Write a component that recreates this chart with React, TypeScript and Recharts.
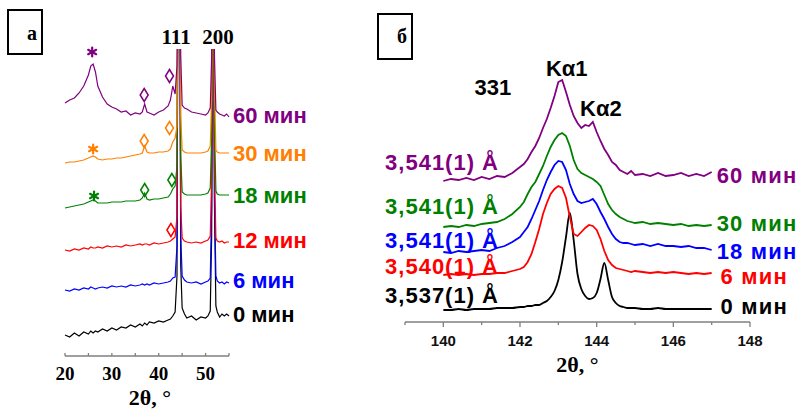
import { LineChart, Line, XAxis, YAxis, ReferenceDot, Label } from "recharts";

const SANS = "'Liberation Sans', Arial, sans-serif";
const SERIF = "'Liberation Serif', 'Times New Roman', serif";

const PURPLE = "#800080";
const ORANGE = "#ff8000";
const GREEN = "#008000";
const RED = "#ff0000";
const BLUE = "#0000ff";
const BLACK = "#000000";
const AXIS = "#7f7f7f";

// ---------- panel а : full patterns, 2θ 20..55°, stacked (offset units) ----------
const thetaA = [
  20, 21, 22, 23, 24, 25, 25.5, 26, 26.5, 27, 28, 29, 30, 31, 32, 33, 34, 35, 36, 36.5,
  37, 37.5, 38, 39, 40, 41, 42, 42.5, 43, 43.5, 43.9, 44.1, 44.3, 44.5, 44.7, 45, 45.5,
  46, 47, 48, 49, 50, 50.5, 51, 51.3, 51.5, 51.7, 51.9, 52.2, 52.5, 53, 53.5, 54, 54.5, 55,
];
const a0 = [
  21, 19, 23, 20, 24, 22, 25, 23, 25, 24, 27, 25, 28, 26, 29, 28, 31, 29, 32, 30,
  33, 31, 34, 33, 35, 34, 36, 37, 40, 44, 80, 400, 400, 400, 90, 48, 42,
  38, 40, 36, 39, 38, 40, 45, 120, 400, 400, 150, 50, 44, 39, 42, 40, 42, 40,
];
const a6 = [
  66, 65, 67, 66, 68, 67, 69, 68, 67, 68, 69, 68, 70, 69, 70, 69, 71, 70, 71, 72,
  71, 72, 71, 73, 72, 73, 74, 75, 78, 79, 110, 400, 400, 400, 120, 80, 76,
  74, 73, 74, 72, 74, 75, 78, 150, 400, 400, 160, 80, 75, 73, 74, 72, 74, 73,
];
const a12 = [
  106, 105, 107, 106, 108, 107, 109, 108, 108, 109, 108, 110, 109, 110, 109, 111, 110, 111, 112, 111,
  112, 112, 111, 113, 112, 113, 114, 115, 117, 119, 140, 400, 400, 400, 150, 118, 115,
  114, 113, 114, 113, 115, 116, 120, 180, 400, 400, 190, 118, 115, 114, 115, 113, 114, 114,
];
const a18 = [
  148, 149, 150, 151, 152, 154, 155, 156, 155, 153, 153, 153, 154, 154, 154, 155, 155, 155, 156, 158,
  163, 157, 156, 157, 157, 158, 159, 162, 167, 170, 190, 400, 400, 400, 200, 164, 162,
  161, 161, 161, 161, 162, 163, 168, 220, 400, 400, 230, 165, 162, 161, 161, 161, 161, 161,
];
const a30 = [
  193, 194, 194, 195, 196, 198, 199, 200, 199, 197, 196, 197, 197, 198, 198, 199, 200, 201, 202, 203,
  210, 204, 203, 203, 204, 204, 205, 207, 214, 218, 230, 400, 400, 400, 240, 206, 204,
  203, 203, 203, 203, 204, 205, 210, 260, 400, 400, 270, 206, 204, 203, 203, 203, 203, 203,
];
const a60 = [
  253, 256, 258, 263, 270, 281, 290, 292, 284, 270, 259, 252, 249, 247, 244, 245, 241, 243, 242, 244,
  252, 244, 243, 241, 244, 246, 250, 256, 270, 262, 290, 400, 400, 400, 300, 251, 248,
  247, 244, 243, 242, 241, 243, 248, 300, 400, 400, 300, 246, 244, 242, 241, 240, 242, 239,
];
const ticksA = [20, 25, 30, 35, 40, 45, 50, 55];

// labels at the right end of each pattern: [2θ, level, text, colour]
const timeLabelsA: [number, number, string, string][] = [
  [55, 241, "60 мин", PURPLE],
  [55, 203, "30 мин", ORANGE],
  [55, 161, "18 мин", GREEN],
  [55, 116, "12 мин", RED],
  [55, 76, "6 мин", BLUE],
  [55, 42, "0 мин", BLACK],
];
const hklA: [number, number, string][] = [
  [43.7, 319, "111"],
  [52.65, 319, "200"],
];
const starsA: [number, number, string][] = [
  [25.8, 304, PURPLE],
  [26, 207, ORANGE],
  [26.2, 160, GREEN],
];
const diamondsA: [number, number, string][] = [
  [36.9, 261, PURPLE],
  [42.3, 280, PURPLE],
  [36.9, 215, ORANGE],
  [42.3, 228, ORANGE],
  [37, 166, GREEN],
  [42.8, 176, GREEN],
  [42.6, 126, RED],
];

// ---------- panel б : 331 reflection, 2θ 140..147° ----------
const thetaB = [
  140, 140.2, 140.4, 140.6, 140.8, 141, 141.2, 141.4, 141.6, 141.8, 142, 142.1, 142.2, 142.3,
  142.4, 142.5, 142.6, 142.7, 142.8, 142.9, 143, 143.1, 143.2, 143.3, 143.4, 143.5, 143.6,
  143.7, 143.8, 143.9, 144, 144.1, 144.2, 144.3, 144.4, 144.5, 144.6, 144.7, 144.8, 144.9,
  145, 145.2, 145.4, 145.6, 145.8, 146, 146.2, 146.4, 146.6, 146.8, 147,
];
const b0 = [
  12, 12, 13, 12, 13, 13, 13, 14, 14, 14, 15, 15, 16, 16, 17, 17, 19, 21, 25, 31,
  42, 60, 85, 109, 82, 48, 33, 26, 23, 24, 29, 43, 59, 42, 25, 19, 16, 15, 14, 14,
  14, 13, 13, 14, 13, 13, 13, 13, 13, 13, 13,
];
const b6 = [
  47, 48, 47, 48, 47, 48, 48, 49, 49, 51, 53, 55, 60, 68, 80, 93, 108, 119, 128, 133,
  136, 134, 124, 105, 88, 86, 90, 94, 97, 96, 92, 83, 71, 62, 57, 54, 53, 52, 51, 50,
  51, 50, 49, 50, 49, 50, 49, 48, 49, 48, 49,
];
const b18 = [
  70, 69, 71, 70, 71, 72, 71, 74, 76, 80, 85, 90, 95, 103, 112, 121, 132, 142, 150, 157,
  161, 160, 152, 138, 128, 121, 119, 120, 121, 123, 118, 110, 103, 95, 88, 83, 80, 79, 79, 78,
  77, 78, 76, 78, 76, 76, 75, 76, 74, 74, 72,
];
const b30 = [
  95, 96, 95, 97, 96, 98, 99, 100, 103, 108, 115, 120, 128, 135, 140, 148, 156, 166, 175, 182,
  187, 189, 186, 176, 162, 153, 149, 147, 145, 143, 140, 136, 127, 118, 112, 108, 105, 103, 101, 100,
  99, 100, 98, 99, 98, 97, 98, 96, 97, 96, 97,
];
const b60 = [
  141, 143, 142, 144, 142, 145, 143, 146, 145, 149, 155, 158, 163, 170, 176, 184, 194, 203, 214, 226,
  240, 242, 230, 217, 206, 199, 194, 197, 196, 200, 190, 181, 173, 167, 160, 157, 152, 150, 148, 151,
  147, 148, 146, 149, 146, 147, 149, 146, 148, 146, 150,
];
const ticksB = [139, 140, 141, 142, 143, 144, 145, 146, 147, 148];

const timeLabelsB: [number, number, string, string][] = [
  [147, 147, "60 мин", PURPLE],
  [147, 99, "30 мин", GREEN],
  [147, 71, "18 мин", BLUE],
  [147.1, 46, "6 мин", RED],
  [147.1, 16, "0 мин", BLACK],
];
const latticeB: [number, number, string, string][] = [
  [138.48, 160, "3,541(1) Å", PURPLE],
  [138.48, 116, "3,541(1) Å", GREEN],
  [138.48, 82, "3,541(1) Å", BLUE],
  [138.48, 56, "3,540(1) Å", RED],
  [138.48, 27, "3,537(1) Å", BLACK],
];
const peakNamesB: [number, number, string][] = [
  [141.29, 235, "331"],
  [143.22, 254, "Kα1"],
  [144.11, 214, "Kα2"],
];

const dataA = thetaA.map((t, i) => ({
  t, a0: a0[i], a6: a6[i], a12: a12[i], a18: a18[i], a30: a30[i], a60: a60[i],
}));
const dataB = thetaB.map((t, i) => ({
  t, b0: b0[i], b6: b6[i], b18: b18[i], b30: b30[i], b60: b60[i],
}));

function textDot(key: string, x: number, y: number, value: string, color: string,
  font: string, size: number, position: any, offset = 0, spacing = 0) {
  return (
    <ReferenceDot key={key} x={x} y={y} r={0} fill="none" stroke="none" ifOverflow="visible"
      label={{
        value, position, offset, fill: color, fontSize: size, fontWeight: "bold",
        fontFamily: font, letterSpacing: spacing,
      }} />
  );
}

const diamond = (color: string) => (p: any) => (
  <polygon
    points={`${p.cx},${p.cy - 6.5} ${p.cx + 4},${p.cy} ${p.cx},${p.cy + 6.5} ${p.cx - 4},${p.cy}`}
    fill="none" stroke={color} strokeWidth={1.5} />
);
const star = (color: string) => (p: any) => (
  <g stroke={color} strokeWidth={2.2} strokeLinecap="round">
    <line x1={p.cx} y1={p.cy - 4.5} x2={p.cx} y2={p.cy + 4.5} />
    <line x1={p.cx - 4} y1={p.cy - 2.2} x2={p.cx + 4} y2={p.cy + 2.2} />
    <line x1={p.cx - 4} y1={p.cy + 2.2} x2={p.cx + 4} y2={p.cy - 2.2} />
  </g>
);

function TickA(p: any) {
  const major = p.payload.value % 10 === 0;
  return (
    <g>
      <line x1={p.x} x2={p.x} y1={p.y} y2={p.y - 3} stroke={AXIS} strokeWidth={1.3} />
      {major && (
        <text x={p.x} y={p.y + 23.5} textAnchor="middle" fontFamily={SERIF} fontWeight="bold"
          fontSize={19} fill="#000">{p.payload.value}</text>
      )}
    </g>
  );
}

function TickB(p: any) {
  const major = p.payload.value % 2 === 0;
  return (
    <g>
      <line x1={p.x} x2={p.x} y1={p.y} y2={p.y + (major ? 5 : 3)} stroke={AXIS} strokeWidth={1.3} />
      {major && (
        <text x={p.x} y={p.y + 23.5} textAnchor="middle" fontFamily={SANS} fontWeight="bold"
          fontSize={15} fill="#111">{p.payload.value}</text>
      )}
    </g>
  );
}

const seriesA = [
  { key: "a0", color: BLACK },
  { key: "a6", color: BLUE },
  { key: "a12", color: RED },
  { key: "a18", color: GREEN },
  { key: "a30", color: ORANGE },
  { key: "a60", color: PURPLE },
];
const seriesB = [
  { key: "b0", color: BLACK },
  { key: "b6", color: RED },
  { key: "b18", color: BLUE },
  { key: "b30", color: GREEN },
  { key: "b60", color: PURPLE },
];

export default function App() {
  return (
    <div style={{ position: "absolute", left: 0, top: 0, width: 799, height: 409, background: "#fff" }}>
      <svg width={799} height={409} style={{ position: "absolute", left: 0, top: 0 }}>
        <rect x={8} y={10} width={34} height={44} fill="none" stroke="#000" strokeWidth={2} />
        <text x={32} y={40} textAnchor="middle" fontFamily={SERIF} fontWeight="bold" fontSize={20}>а</text>
        <rect x={378} y={14} width={34} height={45} fill="none" stroke="#000" strokeWidth={2} />
        <text x={402} y={43} textAnchor="middle" fontFamily={SERIF} fontWeight="bold" fontSize={20}>б</text>
      </svg>

      <div style={{ position: "absolute", left: 0, top: 0 }}>
        <LineChart width={340} height={409} data={dataA}
          margin={{ top: 49, right: 111, left: 65, bottom: 23 }}>
          <XAxis type="number" dataKey="t" domain={[20, 55]} ticks={ticksA} interval={0}
            height={30} tickSize={0} tickMargin={0} tickLine={false}
            axisLine={{ stroke: AXIS, strokeWidth: 1.5 }} tick={(p: any) => <TickA {...p} />}>
            <Label value="2θ, °" position="bottom" offset={3} dx={3} fill="#000"
              fontFamily={SERIF} fontWeight="bold" fontSize={22} />
          </XAxis>
          <YAxis hide type="number" domain={[0, 307]} allowDataOverflow />
          {seriesA.map((s) => (
            <Line key={s.key} type="linear" dataKey={s.key} stroke={s.color} strokeWidth={1.2}
              dot={false} isAnimationActive={false} />
          ))}
          {starsA.map(([x, y, c], i) => (
            <ReferenceDot key={"s" + i} x={x} y={y} r={4} ifOverflow="visible" shape={star(c)} />
          ))}
          {diamondsA.map(([x, y, c], i) => (
            <ReferenceDot key={"d" + i} x={x} y={y} r={4} ifOverflow="visible" shape={diamond(c)} />
          ))}
          {hklA.map(([x, y, t], i) => textDot("h" + i, x, y, t, "#000", SERIF, 21, "center"))}
          {timeLabelsA.map(([x, y, t, c], i) => textDot("ta" + i, x, y, t, c, SANS, 22, "right", 4))}
        </LineChart>
      </div>

      <div style={{ position: "absolute", left: 380, top: 0 }}>
        <LineChart width={419} height={409} data={dataB}
          margin={{ top: 30, right: 49, left: 25, bottom: 57 }}>
          <XAxis type="number" dataKey="t" domain={[139, 148]} ticks={ticksB} interval={0}
            height={30} tickSize={0} tickMargin={0} tickLine={false}
            axisLine={{ stroke: AXIS, strokeWidth: 1.5 }} tick={(p: any) => <TickB {...p} />}>
            <Label value="2θ, °" position="bottom" offset={4} fill="#000"
              fontFamily={SERIF} fontWeight="bold" fontSize={22} />
          </XAxis>
          <YAxis hide type="number" domain={[0, 292]} allowDataOverflow />
          {seriesB.map((s) => (
            <Line key={s.key} type={s.key === "b0" ? "monotone" : "linear"} dataKey={s.key}
              stroke={s.color} strokeWidth={1.8} dot={false} isAnimationActive={false} />
          ))}
          {peakNamesB.map(([x, y, t], i) => textDot("p" + i, x, y, t, "#000", SANS, 22, "center"))}
          {latticeB.map(([x, y, t, c], i) => textDot("l" + i, x, y, t, c, SANS, 22, "right", 0, 1))}
          {timeLabelsB.map(([x, y, t, c], i) => textDot("tb" + i, x, y, t, c, SANS, 22, "right", 5, 1.2))}
        </LineChart>
      </div>
    </div>
  );
}
